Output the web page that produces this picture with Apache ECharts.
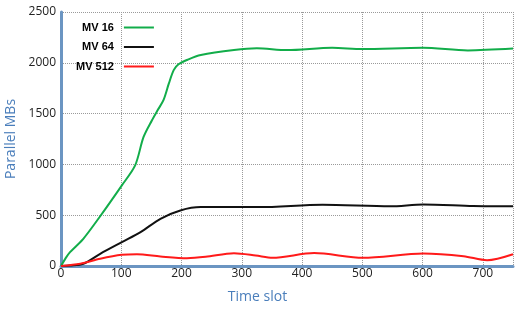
<!DOCTYPE html>
<html><head><meta charset="utf-8">
<script src="https://cdn.jsdelivr.net/npm/echarts@6/dist/echarts.min.js"></script>
<style>html,body{margin:0;padding:0;background:#fff}#c{width:515px;height:314px}</style>
</head><body><div id="c"></div>
<script>
const seriesNames = ['MV 16', 'MV 64', 'MV 512'];
const xTicks = [0, 100, 200, 300, 400, 500, 600, 700];
const yTicks = [0, 500, 1000, 1500, 2000, 2500];

const mv16X = [0, 8, 15, 37, 65, 101, 123, 137, 151, 160, 170, 179, 187, 195, 210, 232, 287, 325, 375, 450, 500, 600, 675, 750];
const mv16Y = [0, 80, 136, 268, 490, 794, 990, 1270, 1435, 1530, 1632, 1797, 1928, 1985, 2030, 2076, 2125, 2142, 2125, 2148, 2135, 2148, 2122, 2140];

const mv64X = [0, 15, 37, 65, 101, 132, 165, 198, 232, 329, 434, 546, 601, 684, 750];
const mv64Y = [0, 5, 22, 120, 235, 333, 465, 547, 580, 580, 603, 587, 606, 590, 587];

const mv512X = [0, 32, 65, 101, 126, 165, 209, 240, 287, 323, 351, 420, 501, 601, 668, 707, 750];
const mv512Y = [0, 22, 71, 110, 116, 94, 77, 90, 126, 104, 81, 127, 81, 123, 97, 57, 116];

const colors = ['#12ad4a', '#111111', '#ff1a1a'];
const zip = (xs, ys) => xs.map((x, i) => [x, ys[i]]);
const seriesData = [zip(mv16X, mv16Y), zip(mv64X, mv64Y), zip(mv512X, mv512Y)];

const axisBlue = '#6b95c2';
const font = 'Open Sans';

const chart = echarts.init(document.getElementById('c'), null, {renderer: 'canvas'});
chart.setOption({
  animation: false,
  grid: {left: 61, right: 2, top: 12, bottom: 48, containLabel: false, outerBoundsMode: 'none'},
  legend: {
    orient: 'vertical', align: 'right', left: 76, top: 22, padding: 0,
    itemWidth: 30, itemHeight: 10, itemGap: 8.5,
    itemStyle: {opacity: 0},
    textStyle: {fontFamily: 'Liberation Sans', fontWeight: 'bold', fontSize: 11, color: '#000', padding: [0, 5, 0, 0]},
    data: seriesNames
  },
  xAxis: {
    type: 'value', min: 0, max: 750, interval: 100,
    name: 'Time slot', nameLocation: 'middle', nameGap: 24,
    nameTextStyle: {color: '#4a7ebb', fontFamily: font, fontSize: 14, padding: [0, 59, 0, 0]},
    axisLine: {lineStyle: {color: axisBlue, width: 3}},
    axisTick: {show: false},
    axisLabel: {color: '#222', fontFamily: font, fontSize: 12, margin: 2, showMaxLabel: false,
      formatter: v => xTicks.includes(v) ? String(v) : ''},
    splitLine: {show: true, lineStyle: {type: 'dotted', color: '#9a9a9a', width: 1}}
  },
  yAxis: {
    type: 'value', min: 0, max: 2500, interval: 500,
    name: 'Parallel MBs', nameLocation: 'middle', nameGap: 39,
    nameTextStyle: {color: '#4a7ebb', fontFamily: font, fontSize: 14},
    axisLine: {show: true, lineStyle: {color: axisBlue, width: 3}},
    axisTick: {show: false},
    axisLabel: {color: '#222', fontFamily: font, fontSize: 12, margin: 5,
      formatter: v => yTicks.includes(v) ? String(v) : ''},
    splitLine: {show: true, lineStyle: {type: 'dotted', color: '#9a9a9a', width: 1}}
  },
  series: seriesNames.map((n, i) => ({
    name: n, type: 'line', data: seriesData[i], smooth: 0.3, symbol: 'none',
    lineStyle: {color: colors[i], width: 2}, itemStyle: {color: colors[i]}
  }))
});
</script></body></html>
